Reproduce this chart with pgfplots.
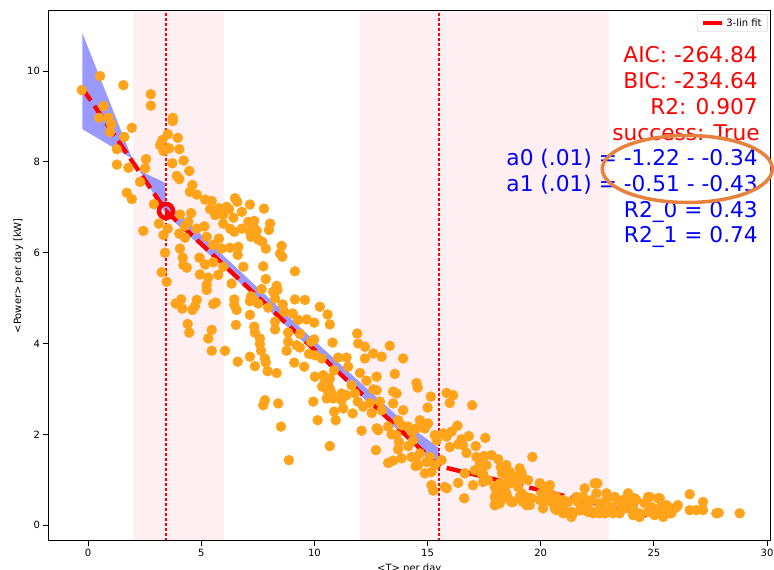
\documentclass[border=0pt]{standalone}
\usepackage{fontspec}
\setmainfont{DejaVu Sans}
\usepackage{pgfplots}
\pgfplotsset{compat=1.18}
\definecolor{dotc}{RGB}{255,163,26}
\definecolor{bandc}{RGB}{153,153,255}
\definecolor{spanc}{RGB}{253,239,242}
\definecolor{ringc}{RGB}{231,130,62}

\begin{document}
\begin{tikzpicture}
\begin{axis}[
  scale only axis, width=721.5pt, height=530.3pt,
  xmin=-1.75, xmax=30.13, ymin=-0.35, ymax=11.33,
  xtick={0,5,...,30}, ytick={0,2,...,10},
  tick pos=left, tick align=outside, major tick length=5pt,
  tick style={black, line width=1pt},
  axis line style={black, line width=1pt},
  axis on top,
  /pgf/number format/assume math mode=true,
  ticklabel style={font=\fontsize{10}{12}\selectfont},
  xlabel={<T> per day}, ylabel={<Power> per day [kW]},
  label style={font=\fontsize{10}{12}\selectfont},
  xlabel style={at={(axis description cs:0.5,0)}, anchor=north, yshift=-19pt},
  ylabel style={at={(axis description cs:-0.0416,0.5)}, anchor=center},
  legend style={at={(rel axis cs:0.997,0.993)}, anchor=north east,
    font=\fontsize{10}{12}\selectfont, draw=black!20, rounded corners=2pt,
    inner xsep=4pt, inner ysep=2pt},
  legend image code/.code={\draw[#1,solid] (0pt,0pt) -- (19pt,0pt);},
]
% shaded spans
\addplot[fill=spanc, draw=none, forget plot] coordinates {(2,-1) (6,-1) (6,12) (2,12)} -- cycle;
\addplot[fill=spanc, draw=none, forget plot] coordinates {(12,-1) (23,-1) (23,12) (12,12)} -- cycle;
% confidence band
\addplot[fill=bandc, draw=none, forget plot] coordinates {
  (-0.25,10.83) (1.95,8.07) (2.30,7.80) (3.40,7.54) (3.44,7.12) (10,4.06)
  (14,2.25) (15.5,1.70) (15.5,1.25) (3.44,6.85) (1.95,8.07) (-0.25,8.72)} -- cycle;
% data
\addplot[dotc, only marks, mark=*, mark size=4.9pt, mark options={draw=dotc, fill=dotc, line width=0.6pt}, forget plot] coordinates {
(0.53,9.89) (-0.28,9.58) (1.56,9.69) (2.77,9.49) (2.77,9.24) (0.68,9.23) (0.49,8.97) (0.90,8.97)
(1.02,8.83) (0.97,8.66) (1.93,8.75) (3.74,8.97) (3.74,8.90) (1.60,8.55) (1.27,8.28) (3.52,8.61)
(3.96,8.53) (3.28,8.48) (3.18,8.37) (3.33,8.24) (3.58,8.30) (4.03,8.28) (2.56,8.06) (1.27,7.94)
(1.78,7.87) (2.52,7.86) (3.72,7.97) (4.22,8.03) (4.47,7.80) (3.92,7.69) (4.03,7.62) (2.30,7.56)
(4.61,7.49) (4.50,7.34) (4.80,7.28) (1.71,7.32) (1.93,7.18) (2.91,7.07) (5.17,7.17) (5.46,7.14)
(5.39,6.96) (5.78,6.98) (6.12,7.01) (6.23,6.96) (6.49,7.20) (6.59,7.12) (6.79,6.90) (5.61,6.83)
(5.97,6.84) (6.42,6.77) (4.55,6.87) (4.06,6.84) (4.43,6.68) (4.28,6.59) (3.13,6.64) (2.44,6.48)
(3.52,6.53) (3.33,6.39) (4.80,6.53) (5.14,6.58) (4.03,6.42) (4.28,6.33) (5.97,6.64) (6.27,6.53)
(6.46,6.46) (6.79,6.53) (5.24,6.35) (5.78,6.31) (5.53,6.17) (5.90,6.09) (6.27,6.11) (6.64,6.13)
(4.06,6.09) (3.40,6.00) (4.18,5.89) (4.21,5.73) (4.36,5.67) (4.92,5.89) (5.17,5.74) (5.53,5.79)
(5.97,5.69) (6.61,5.95) (6.86,5.69) (3.25,5.57) (4.94,5.52) (5.31,5.45) (5.75,5.51) (6.34,5.32)
(3.47,5.36) (5.24,5.29)
(5.24,5.18) (4.11,4.97) (3.87,4.88) (4.16,4.77) (4.80,4.96) (4.72,4.82) (4.61,4.74) (5.64,4.90)
(5.53,4.87) (6.46,4.97) (6.46,4.85) (6.56,4.74) (4.40,4.43) (4.47,4.24) (5.46,4.30) (5.31,4.11)
(6.53,4.41) (5.46,3.84) (6.05,3.84) (6.61,3.60)
(7.15,7.06) (7.77,6.97) (7.08,6.68) (7.34,6.70) (7.30,6.59) (7.15,6.46) (7.45,6.48) (7.20,6.35)
(8.04,6.64) (7.99,6.50) (7.52,6.29) (7.70,6.24) (7.85,6.09) (8.55,6.15) (8.48,5.98) (8.58,5.91)
(7.74,5.70) (9.14,5.59) (7.85,5.42) (8.33,5.27) (8.37,5.18) (8.18,5.14) (7.67,5.20) (7.20,5.04)
(7.30,4.96) (7.15,4.93) (7.52,4.88) (8.26,4.99) (8.60,4.86) (9.14,4.97) (9.58,4.96) (7.96,4.79)
(8.67,4.70) (9.04,4.66) (10.24,4.81) (10.58,4.64) (10.68,4.42) (7.15,4.63) (7.34,4.37) (7.37,4.24)
(8.26,4.48) (8.26,4.31) (9.28,4.52) (9.66,4.53) (9.99,4.46) (7.59,4.11) (7.59,3.99) (7.64,3.84)
(8.84,4.24) (8.84,4.04) (8.77,3.84) (9.36,4.21) (9.21,3.96) (9.36,3.91) (9.99,4.09) (9.85,4.04)
(9.76,3.77) (10.02,3.74) (10.32,3.67) (10.80,4.02) (7.81,3.67) (7.15,3.71) (11.05,3.69) (11.42,3.69)
(11.89,4.22) (11.93,4.00) (12.23,3.93) (12.60,3.78) (12.97,3.71) (13.33,3.95) (12.23,3.67) (13.92,3.67)
(7.37,3.50) (7.85,3.58) (7.93,3.39) (8.33,3.35) (9.11,3.58) (9.55,3.49) (10.02,3.27) (10.39,3.30)
(10.46,3.16) (10.61,3.12) (10.68,3.23) (10.34,3.05) (10.58,2.97) (10.76,2.90) (10.54,2.79) (10.83,2.79)
(10.68,3.01) (10.87,3.41) (11.49,3.49) (12.01,3.35) (12.30,3.18) (12.75,3.27) (13.55,3.33) (12.60,2.99)
(12.75,2.97) (11.64,3.08) (11.79,2.90) (11.42,2.86) (11.20,2.90) (7.81,2.75) (7.74,2.64) (8.40,2.68)
(9.95,2.72) (11.20,2.75) (11.27,2.57) (10.87,2.50) (11.69,2.46) (11.91,2.72) (12.15,2.61) (12.45,2.69)
(12.89,2.72) (12.53,2.47) (12.97,2.53) (13.48,2.94) (13.63,2.90) (13.48,2.68) (13.92,2.53) (10.14,2.31)
(10.94,2.31) (8.52,2.17) (12.08,2.08) (12.75,2.13) (12.82,2.09) (13.26,2.17) (13.70,2.31) (13.85,2.20)
(13.41,2.00) (13.63,1.98) (14.14,2.17) (14.29,2.06) (10.68,1.74) (12.72,1.65) (13.73,1.83) (13.70,1.67)
(14.14,1.74) (14.36,1.87) (8.87,1.43) (13.26,1.37) (13.48,1.42) (13.85,1.47) (14.29,1.50) (14.47,1.30)
(14.51,3.13) (14.56,3.03) (15.14,2.83) (15.00,2.59) (15.84,2.91) (16.13,2.86) (15.98,2.69) (16.97,2.64)
(14.66,2.31) (15.02,2.24) (14.88,2.13) (14.51,2.13) (16.32,2.19) (16.06,2.06) (15.69,2.02) (15.84,1.95)
(16.82,1.96) (16.50,1.89) (16.57,1.76) (16.35,1.78) (17.55,1.92) (17.13,1.74) (15.98,1.72) (16.72,1.59)
(15.32,1.98) (15.40,1.87) (14.66,1.58) (14.51,1.50) (15.10,1.50) (14.95,1.39) (14.58,1.32) (15.62,1.43)
(15.32,1.32) (15.17,1.17) (14.88,1.14) (19.63,1.50) (17.16,1.50) (17.50,1.52) (17.82,1.54) (18.12,1.45)
(17.31,1.36) (17.60,1.32) (17.09,1.21) (17.38,1.14) (18.23,1.28) (18.48,1.32) (18.63,1.17) (18.29,1.14)
(18.56,1.03) (19.07,1.25) (19.15,1.15) (19.44,0.99) (19.22,1.03) (16.64,1.14) (16.35,0.93) (17.01,0.88)
(16.62,0.59) (15.17,0.88) (15.25,0.76) (15.76,0.84) (15.84,0.81) (17.45,1.14) (17.67,0.99) (17.45,0.95)
(17.97,0.84) (18.12,0.73) (17.97,0.62) (17.97,0.44) (18.19,0.48) (18.34,0.66) (18.56,0.59) (18.70,0.51)
(18.41,0.84) (18.85,0.95) (19.00,0.84) (19.15,0.70) (19.22,0.51) (19.51,0.44) (19.37,0.62) (19.59,0.59)
(19.96,0.92) (20.18,0.81) (20.40,0.88) (20.03,0.70) (19.96,0.55) (20.25,0.55) (20.10,0.37) (20.54,0.55)
(20.62,0.37) (20.99,0.26) (20.76,0.48) (21.06,0.48) (21.35,0.29) (21.35,0.18) (20.99,0.55) (21.58,0.62)
(21.65,0.51) (21.94,0.81) (21.87,0.62) (22.09,0.44) (22.38,0.92) (22.24,0.55) (22.46,0.70) (22.60,0.48)
(22.68,0.37) (22.38,0.29) (22.90,0.55) (22.90,0.70) (23.27,0.62) (23.12,0.40) (23.41,0.55) (23.27,0.29)
(23.63,0.55) (23.86,0.51) (23.86,0.70) (24.15,0.59) (24.08,0.40) (24.37,0.26) (24.59,0.48) (24.74,0.62)
(24.89,0.40) (24.74,0.29) (25.18,0.59) (25.33,0.44) (25.33,0.26) (25.62,0.40) (25.77,0.26) (25.92,0.37)
(26.06,0.44) (25.03,0.22) (23.86,0.37) (23.56,0.37) (23.19,0.26) (22.83,0.26) (22.60,0.26) (22.09,0.29)
(21.80,0.33) (22.50,0.92) (26.58,0.68) (27.17,0.51) (27.17,0.33) (26.87,0.33) (26.58,0.33) (27.76,0.26)
(27.86,0.27) (28.79,0.26)
(20.10,0.62) (20.47,0.51) (20.69,0.33) (20.99,0.40) (21.21,0.51) (21.43,0.26) (21.72,0.33) (22.01,0.40)
(22.31,0.26) (22.90,0.29) (23.49,0.26) (24.08,0.22) (24.37,0.18) (25.11,0.29) (25.41,0.18) (25.70,0.26)
(26.00,0.40) (25.55,0.44) (25.26,0.59) (24.81,0.62) (24.23,0.55) (23.94,0.40)
(17.97,0.44) (18.19,0.62) (18.48,0.70) (18.78,0.51) (19.07,0.62) (19.37,0.44) (18.63,0.92) (18.93,1.06)
(18.19,0.92) (18.04,0.77) (19.96,0.92) (20.25,0.84) (20.40,0.70) (20.69,0.62)
};
% vertical break lines
\addplot[red, line width=2.6pt, dash pattern=on 2.6pt off 2.4pt, forget plot] coordinates {(3.44,-1) (3.44,12)};
\addplot[red, line width=2.6pt, dash pattern=on 2.6pt off 2.4pt, forget plot] coordinates {(15.5,-1) (15.5,12)};
% piecewise fit
\addplot[red, line width=4.3pt, dash pattern=on 14.8pt off 6.4pt] coordinates {
  (-0.25,9.62) (3.44,6.92) (15.5,1.30) (24.7,0.21)};
\addlegendentry{3-lin fit}
\addplot[only marks, mark=o, mark size=7pt, mark options={draw=red, line width=4.5pt}, forget plot]
  coordinates {(3.44,6.92)};
\end{axis}
\begin{scope}[every node/.style={anchor=base east, inner sep=0pt, font=\fontsize{21.7}{26}\selectfont}]
\node[text=red] at (709.5pt,478pt) {AIC: -264.84};
\node[text=red] at (709.5pt,452.3pt) {BIC: -234.64};
\node[text=red] at (709.5pt,426.6pt) {R2: 0.907};
\node[text=red] at (711.5pt,400.9pt) {success: True};
\node[text=blue] at (709.5pt,375.2pt) {a0 (.01) = -1.22 - -0.34};
\node[text=blue] at (709.5pt,349.5pt) {a1 (.01) = -0.51 - -0.43};
\node[text=blue] at (709.5pt,323.8pt) {R2\_0 = 0.43};
\node[text=blue] at (709.5pt,298.1pt) {R2\_1 = 0.74};
\end{scope}
\draw[ringc, line width=3.5pt] (638.8pt,372pt) ellipse [x radius=85pt, y radius=33.5pt];
\pgfresetboundingbox
\useasboundingbox (-48.5pt,-29pt) rectangle (725.5pt,541pt);
\end{tikzpicture}
\end{document}
